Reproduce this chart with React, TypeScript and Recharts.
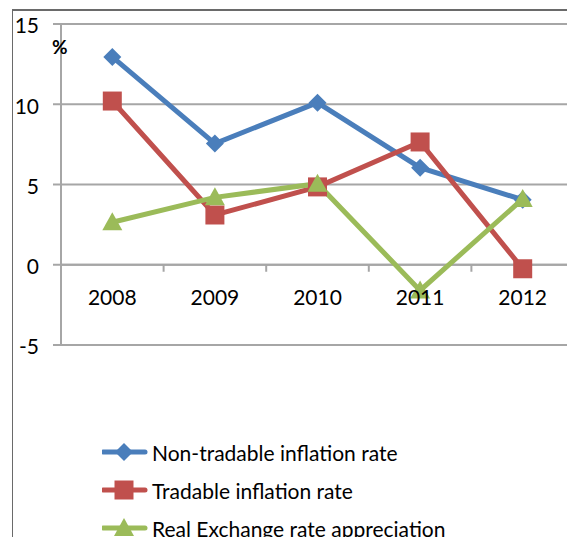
import { CartesianGrid, Legend, Line, LineChart, ReferenceLine, XAxis, YAxis } from 'recharts';

const YEARS = ['2008', '2009', '2010', '2011', '2012'];
const NON_TRADABLE = [12.95, 7.55, 10.1, 6.05, 4.05];
const TRADABLE = [10.2, 3.1, 4.85, 7.65, -0.25];
const REAL_EXCHANGE = [2.65, 4.2, 5.05, -1.6, 4.1];
const Y_TICKS = [-5, 0, 5, 10, 15];

const data = YEARS.map((year, i) => ({
  year,
  nonTradable: NON_TRADABLE[i],
  tradable: TRADABLE[i],
  reer: REAL_EXCHANGE[i],
}));

const FONT = 'Lato, "DejaVu Sans", sans-serif';
const GRID = '#A6A6A6';
const BLUE = '#4A7EBB';
const RED = '#C0504D';
const GREEN = '#9BBB59';

// chart frame
const W = 600;
const H = 537;
const M = { top: 24, right: 26, bottom: 191, left: 0 };
const Y_AXIS_W = 61;
const PLOT_W = W - M.left - M.right - Y_AXIS_W;
const PLOT_H = H - M.top - M.bottom - 1;
const Y_MIN = -5;
const Y_MAX = 15;
const ZERO_Y = M.top + (PLOT_H * Y_MAX) / (Y_MAX - Y_MIN);
const BAND = PLOT_W / YEARS.length;

type Shape = 'diamond' | 'square' | 'triangle';

function markerPath(shape: Shape, cx: number, cy: number) {
  if (shape === 'diamond') return `M${cx},${cy - 9}L${cx + 9},${cy}L${cx},${cy + 9}L${cx - 9},${cy}Z`;
  if (shape === 'square') return `M${cx - 9.5},${cy - 9.5}h19v19h-19Z`;
  return `M${cx},${cy - 10}L${cx + 10},${cy + 8}L${cx - 10},${cy + 8}Z`;
}

function makeDot(shape: Shape, color: string) {
  return (props: any) => {
    const { cx, cy, index } = props;
    if (cx == null || cy == null) return <g key={`${shape}-${index}`} />;
    return <path key={`${shape}-${index}`} d={markerPath(shape, cx, cy)} fill={color} />;
  };
}

// year labels sit under the zero line, with Excel-style tick marks between categories
function YearTick({ x, payload, index }: any) {
  const left = x - BAND / 2;
  return (
    <g>
      <line x1={left} x2={left} y1={ZERO_Y} y2={ZERO_Y + 7} stroke={GRID} strokeWidth={2} />
      {index === YEARS.length - 1 && (
        <line x1={x + BAND / 2} x2={x + BAND / 2} y1={ZERO_Y} y2={ZERO_Y + 7} stroke={GRID} strokeWidth={2} />
      )}
      <text x={x} y={ZERO_Y + 40} textAnchor="middle" fontSize={21} fontFamily={FONT} fill="#000">
        {payload.value}
      </text>
    </g>
  );
}

const SERIES_ORDER = ['nonTradable', 'tradable', 'reer'];
const SHAPES: Record<string, Shape> = { nonTradable: 'diamond', tradable: 'square', reer: 'triangle' };

function LegendBox({ payload }: any) {
  const items = [...(payload ?? [])].sort(
    (a: any, b: any) => SERIES_ORDER.indexOf(a.dataKey) - SERIES_ORDER.indexOf(b.dataKey),
  );
  return (
    <div style={{ fontFamily: FONT, fontSize: 21, color: '#000' }}>
      {items.map((p: any) => (
        <div key={p.dataKey} style={{ display: 'flex', alignItems: 'center', height: 38 }}>
          <svg width={48} height={24} style={{ marginRight: 2 }}>
            <line x1={1} x2={43} y1={12} y2={12} stroke={p.color} strokeWidth={5} strokeLinecap="round" />
            <path d={markerPath(SHAPES[p.dataKey], 22, 12)} fill={p.color} />
          </svg>
          <span>{p.value}</span>
        </div>
      ))}
    </div>
  );
}

export default function App() {
  return (
    <div style={{ position: 'absolute', left: 0, top: 0, width: 567, height: 537, overflow: 'hidden', background: '#fff' }}>
      <div
        style={{
          position: 'absolute',
          left: 12,
          top: 9,
          right: -10,
          bottom: -10,
          borderLeft: '1.5px solid #6A6A6A',
          borderTop: '2px solid #6A6A6A',
        }}
      />
      <div style={{ position: 'absolute', left: 0, top: 0 }}>
        <LineChart width={W} height={H} data={data} margin={M}>
          <CartesianGrid vertical={false} stroke={GRID} strokeWidth={2} />
          <XAxis
            dataKey="year"
            height={1}
            axisLine={false}
            tickLine={false}
            tick={<YearTick />}
            interval={0}
            padding={{ left: BAND / 2, right: BAND / 2 }}
          />
          <YAxis
            domain={[Y_MIN, Y_MAX]}
            ticks={Y_TICKS}
            width={Y_AXIS_W}
            axisLine={{ stroke: GRID, strokeWidth: 2 }}
            tickLine={{ stroke: GRID, strokeWidth: 2 }}
            tickSize={8}
            tickMargin={14}
            tick={{ fontSize: 21, fontFamily: FONT, fill: '#000', dy: 2 }}
            label={{
              content: ({ viewBox }: any) => (
                <text
                  x={viewBox.x + viewBox.width - 9}
                  y={viewBox.y + 30}
                  fontSize={19}
                  fontWeight="bold"
                  fontFamily={FONT}
                  fill="#000"
                >
                  %
                </text>
              ),
            }}
          />
          <ReferenceLine y={0} stroke={GRID} strokeWidth={2} />
          <Line
            dataKey="nonTradable"
            name="Non-tradable inflation rate"
            stroke={BLUE}
            strokeWidth={5}
            dot={makeDot('diamond', BLUE)}
            activeDot={false}
            isAnimationActive={false}
          />
          <Line
            dataKey="tradable"
            name="Tradable inflation rate"
            stroke={RED}
            strokeWidth={5}
            dot={makeDot('square', RED)}
            activeDot={false}
            isAnimationActive={false}
          />
          <Line
            dataKey="reer"
            name="Real Exchange rate appreciation"
            stroke={GREEN}
            strokeWidth={5}
            dot={makeDot('triangle', GREEN)}
            activeDot={false}
            isAnimationActive={false}
          />
          <Legend
            layout="vertical"
            align="center"
            verticalAlign="middle"
            content={<LegendBox />}
            wrapperStyle={{ left: 102, top: 433, width: 460 }}
          />
        </LineChart>
      </div>
    </div>
  );
}
